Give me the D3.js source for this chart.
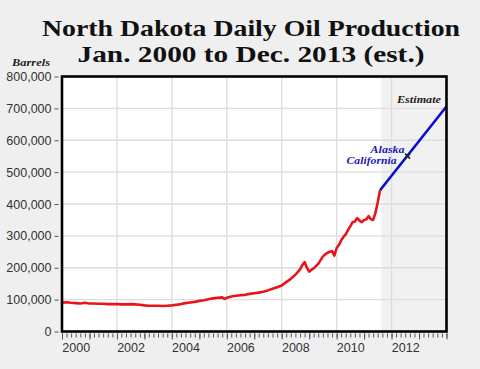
<!DOCTYPE html>
<html><head><meta charset="utf-8">
<script src="https://cdn.jsdelivr.net/npm/d3@7"></script>
<style>
html,body{margin:0;padding:0;background:#efefef;}
svg{display:block;}
</style></head>
<body>
<script>
// ---- data ----
const titleLines = ["North Dakota Daily Oil Production", "Jan. 2000 to Dec. 2013 (est.)"];
const yTicks = [0,100000,200000,300000,400000,500000,600000,700000,800000];
const yearLabels = ["2000","2002","2004","2006","2008","2010","2012"];
const gridYears = ["2002","2004","2006","2008","2010","2012"];

const actualDates = ["2000-01","2000-03","2000-05","2000-07","2000-09","2000-11","2001-01","2001-03","2001-05","2001-07","2001-09","2001-11",
 "2002-01","2002-03","2002-05","2002-07","2002-09","2002-11","2003-01","2003-03","2003-05","2003-07","2003-09","2003-11",
 "2004-01","2004-03","2004-05","2004-07","2004-09","2004-11","2005-01","2005-03","2005-05","2005-07","2005-09","2005-11","2005-12",
 "2006-01","2006-03","2006-05","2006-07","2006-09","2006-11","2007-01","2007-03","2007-05","2007-07","2007-09","2007-11",
 "2008-01","2008-03","2008-05","2008-07","2008-09","2008-10","2008-11","2008-12","2009-01","2009-02","2009-03","2009-05","2009-07","2009-08","2009-09","2009-10","2009-11","2009-12",
 "2010-01","2010-02","2010-03","2010-04","2010-05","2010-06","2010-07","2010-08","2010-09","2010-10","2010-11","2010-12",
 "2011-01","2011-02","2011-03","2011-04","2011-05","2011-06","2011-07","2011-08"];
const actualValues = [91000,92000,90000,89000,88000,90000,88000,88000,87000,87000,86000,86000,
 86000,85000,85000,86000,85000,84000,82000,81000,81000,81000,80000,81000,
 82000,84000,86000,89000,91000,93000,96000,98000,101000,104000,106000,107000,102000,
 106000,110000,112000,114000,115000,118000,120000,122000,125000,129000,134000,139000,
 144000,155000,165000,178000,195000,208000,218000,200000,188000,194000,198000,212000,235000,242000,247000,250000,252000,238000,
 262000,272000,285000,297000,305000,318000,330000,343000,345000,356000,348000,343000,
 350000,352000,362000,352000,350000,372000,405000,443000];

const estimateDates = ["2011-08","2013-12-31"];
const estimateValues = [443000,706000];
const estimateStart = "2011-08-20";

const markerDate = "2012-08";
const markerValue = 550000;
const markerLabels = ["Alaska","California"];

// ---- layout ----
const W = 480, H = 369;
const parse = s => s.length === 7 ? d3.timeParse("%Y-%m")(s) : d3.timeParse("%Y-%m-%d")(s);
const x = d3.scaleTime().domain([new Date(2000,0,1), new Date(2014,0,1)]).range([62, 446.5]);
const y = d3.scaleLinear().domain([0, 800000]).range([331.5, 76.5]);

const svg = d3.select("body").append("svg").attr("width", W).attr("height", H);

// title
svg.selectAll("text.title").data(titleLines).join("text")
  .attr("class","title")
  .attr("x", 251).attr("y", (d,i) => i === 0 ? 36 : 62)
  .attr("text-anchor","middle")
  .attr("font-family","'Liberation Serif','DejaVu Serif',serif")
  .attr("font-weight","bold").attr("font-size", 23).attr("fill","#111")
  .attr("textLength", (d,i) => i === 0 ? 418 : 347)
  .attr("lengthAdjust","spacingAndGlyphs")
  .text(d => d);

svg.append("text").attr("x", 12).attr("y", 66)
  .attr("font-family","'Liberation Serif',serif").attr("font-style","italic").attr("font-weight","bold")
  .attr("font-size", 11).attr("fill","#222").attr("textLength", 38).attr("lengthAdjust","spacingAndGlyphs")
  .text("Barrels");

// plot background
const [x0, x1] = x.range(), [yb, yt] = y.range();
svg.append("rect").attr("x", x0).attr("y", yt).attr("width", x1 - x0).attr("height", yb - yt).attr("fill","#fff");

// estimate shading
svg.append("rect").attr("x", x(parse(estimateStart))).attr("y", yt)
  .attr("width", x1 - x(parse(estimateStart))).attr("height", yb - yt).attr("fill","#f1f1f1");

// grid
svg.append("g").selectAll("line").data(yTicks.slice(1, -1)).join("line")
  .attr("x1", x0).attr("x2", x1).attr("y1", d => y(d)).attr("y2", d => y(d))
  .attr("stroke","#dddddd").attr("stroke-width",1.3);
svg.append("g").selectAll("line").data(gridYears).join("line")
  .attr("x1", d => x(new Date(+d,0,1))).attr("x2", d => x(new Date(+d,0,1)))
  .attr("y1", yt).attr("y2", yb).attr("stroke","#dddddd").attr("stroke-width",1.3);

// lines
const line = d3.line().x(d => x(d[0])).y(d => y(d[1]));
const actual = actualDates.map((d,i) => [parse(d), actualValues[i]]);
const est = estimateDates.map((d,i) => [parse(d), estimateValues[i]]);
svg.append("path").datum(est).attr("d", line).attr("fill","none").attr("stroke","#0a0ad0").attr("stroke-width",2.6);
svg.append("path").datum(actual).attr("d", line).attr("fill","none").attr("stroke","#e8141c")
  .attr("stroke-width",2.6).attr("stroke-linejoin","round");

// marker
const mx = x(parse(markerDate)), my = y(markerValue);
svg.append("path").attr("d", `M${mx-2.5},${my-2.5}L${mx+2.5},${my+2.5}M${mx-2.5},${my+2.5}L${mx+2.5},${my-2.5}`)
  .attr("stroke","#222").attr("stroke-width",1.6);
svg.selectAll("text.mlab").data(markerLabels).join("text").attr("class","mlab")
  .attr("x", (d,i) => i === 0 ? mx - 3 : mx - 11)
  .attr("y", (d,i) => i === 0 ? my - 3 : my + 7.5)
  .attr("text-anchor","end")
  .attr("font-family","'Liberation Serif',serif").attr("font-style","italic").attr("font-weight","bold")
  .attr("font-size", 9.8).attr("fill","#1a1ab0")
  .attr("textLength", (d,i) => i === 0 ? 34 : 50).attr("lengthAdjust","spacingAndGlyphs")
  .text(d => d);

svg.append("text").attr("x", 441).attr("y", 103).attr("text-anchor","end")
  .attr("font-family","'Liberation Serif',serif").attr("font-style","italic").attr("font-weight","bold")
  .attr("font-size", 11).attr("fill","#222")
  .attr("textLength", 44).attr("lengthAdjust","spacingAndGlyphs").text("Estimate");

// frame
svg.append("rect").attr("x", x0).attr("y", yt).attr("width", x1 - x0).attr("height", yb - yt)
  .attr("fill","none").attr("stroke","#000").attr("stroke-width",2.6);

// y axis
const yAxis = svg.append("g").attr("transform", "translate(58.5,0)")
  .call(d3.axisLeft(y).tickValues(yTicks).tickFormat(d3.format(",")).tickSize(4).tickPadding(3));
yAxis.select(".domain").remove();
yAxis.selectAll("line").attr("stroke","#555");
yAxis.selectAll("text").attr("font-family","'Liberation Sans',Arial,sans-serif").attr("font-size",12.5).attr("fill","#333");

// x axis minor ticks (every 2 months) and year ticks
const xMinor = svg.append("g").attr("transform", `translate(0,${yb + 2})`)
  .call(d3.axisBottom(x).ticks(d3.timeMonth.every(2)).tickSize(4).tickFormat(""));
xMinor.select(".domain").remove();
xMinor.selectAll("line").attr("stroke","#555");
const xYears = svg.append("g").attr("transform", `translate(0,${yb + 2})`)
  .call(d3.axisBottom(x).ticks(d3.timeYear.every(1)).tickSize(6).tickFormat(""));
xYears.select(".domain").remove();
xYears.selectAll("line").attr("stroke","#555");

// x labels centred on the middle of the year
const xLab = svg.append("g").attr("transform", `translate(0,${yb + 2})`)
  .call(d3.axisBottom(x).tickValues(yearLabels.map(d => new Date(+d,6,1))).tickSize(0).tickPadding(10)
    .tickFormat(d3.timeFormat("%Y")));
xLab.select(".domain").remove();
xLab.selectAll("text").attr("font-family","'Liberation Sans',Arial,sans-serif").attr("font-size",12.5).attr("fill","#333");
</script>
</body></html>
